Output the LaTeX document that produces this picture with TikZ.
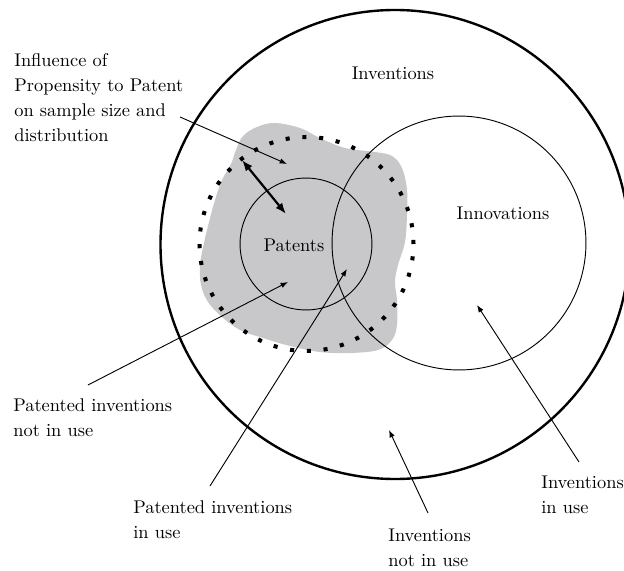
\documentclass[tikz,border=0pt]{standalone}
\usetikzlibrary{arrows.meta}
\definecolor{blobgray}{RGB}{200,200,203}
\begin{document}
\begin{tikzpicture}[x=0.5435pt,y=-0.5435pt,
  txt/.style={inner sep=0pt, font=\fontsize{10}{13.6}\selectfont},
  lbl/.style={txt, align=left, anchor=west},
  ring/.style={circle, draw, inner sep=0pt, outer sep=0pt},
  thinarrow/.style={line width=0.5pt, -{Latex[length=4pt,width=3pt]}},
  bigarrow/.style={line width=1.2pt, {Latex[length=6pt,width=4.6pt]}-{Latex[length=6pt,width=4.6pt]}}]
\useasboundingbox (0,0) rectangle (624,571);
\clip (0,0) rectangle (624,571);
% grey blob
\fill[blobgray] plot[smooth cycle, tension=0.6] coordinates {
 (275,123) (300,128) (320,138) (345,148) (375,152) (392,156) (402,168) (407,190)
 (407,215) (405,242) (398,265) (395,282) (397,300) (397,325) (392,340) (378,350)
 (350,353) (320,352) (290,346) (263,338) (240,330) (222,317) (208,302) (201,285)
 (200,265) (204,243) (209,222) (215,200) (222,180) (231,164) (236,150) (243,136) (257,127)};
% circles
\node[ring, line width=1.3pt, minimum size=254.9pt] (inventionsring) at (395,244.5) {};
\node[ring, line width=0.5pt, minimum size=138pt] (innovring) at (459,243) {};
\node[ring, line width=0.5pt, minimum size=71.7pt] (patring) at (306,244) {};
\node[ring, line width=2.2pt, dash pattern=on 2.2pt off 6.94pt, minimum size=116.3pt] (dotring) at (306.5,244) {};
% inner labels
\node[txt] (inventions) at (393,73) {Inventions};
\node[txt] (innovations) at (503,213) {Innovations};
\node[txt] (patents) at (294,245) {Patents};
% outer labels
\node[lbl] (influence) at (14,97.5) {Influence of\\Propensity to Patent\\on sample size and\\distribution};
\node[lbl] (pinu) at (13,418) {Patented inventions\\not in use};
\node[lbl] (piiu) at (133,519.5) {Patented inventions\\in use};
\node[lbl] (iniu) at (388,547.5) {Inventions\\not in use};
\node[lbl] (iiu) at (541,494.5) {Inventions\\in use};
% connector ends
\coordinate (infls) at (180,117);  \coordinate (inflt) at (287,164);
\coordinate (da1) at (242,160);    \coordinate (da2) at (286,214);
\coordinate (pinus) at (88,385);   \coordinate (pinut) at (288,282);
\coordinate (piius) at (210,486);  \coordinate (piiut) at (347,269);
\coordinate (inius) at (428,513);  \coordinate (iniut) at (389,430);
\coordinate (iius) at (579,462);   \coordinate (iiut) at (477,305);
% connectors
\draw[thinarrow] (infls) -- (inflt);
\draw[bigarrow] (da1) -- (da2);
\draw[thinarrow] (pinus) -- (pinut);
\draw[thinarrow] (piius) -- (piiut);
\draw[thinarrow] (inius) -- (iniut);
\draw[thinarrow] (iius) -- (iiut);
\end{tikzpicture}
\end{document}
